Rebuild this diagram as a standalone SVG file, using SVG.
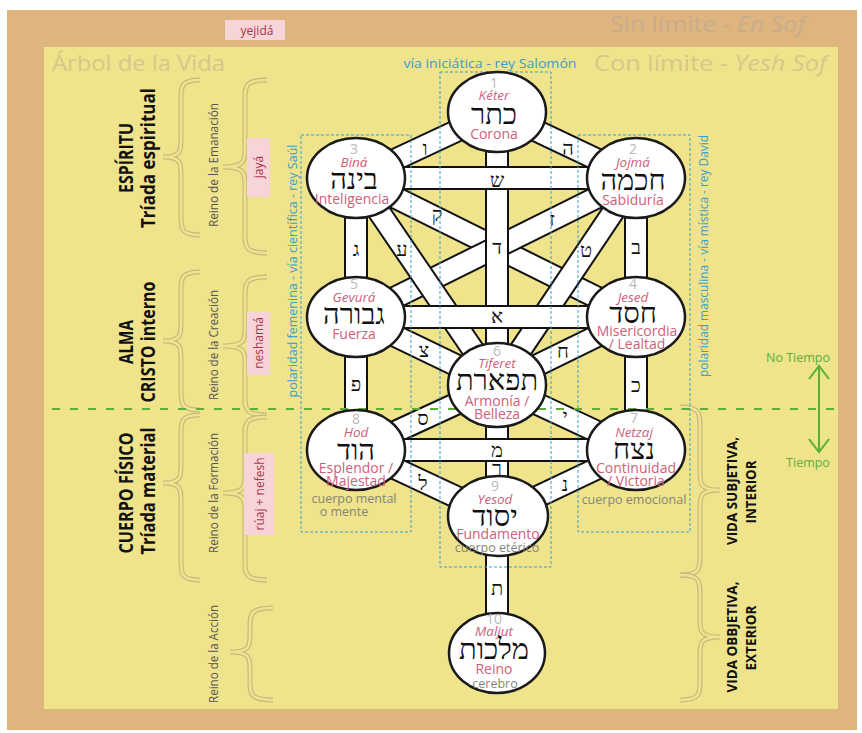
<svg xmlns="http://www.w3.org/2000/svg" xmlns:xlink="http://www.w3.org/1999/xlink" width="862" height="733" viewBox="0 0 862 733">
<style>
text{font-family:"Open Sans","Liberation Sans",sans-serif;text-anchor:middle;dominant-baseline:central}
.bo{fill:none;stroke:#111;stroke-width:24}
.bi{fill:none;stroke:#fff;stroke-width:20}
.let{font-family:"Liberation Serif","DejaVu Sans",serif;font-size:20px;fill:#111}
.node ellipse{fill:#fff;stroke:#1a1a1a;stroke-width:2.5}
.num{font-size:14px;fill:#b9b9b9}
.nm{font-size:13.5px;font-style:italic;fill:#d0607a}
.heb{font-family:"Liberation Serif","DejaVu Sans",serif;font-size:29px;fill:#111}
.tr{font-size:14px;fill:#d0607a}
.gr{font-size:12.5px;fill:#85857a}
.box{fill:none;stroke:#3a9fc9;stroke-width:1;stroke-dasharray:3 2}
.blue{font-size:12px;fill:#3a9fc9}
.brO{fill:none;stroke:#c4bb80;stroke-width:5}
.brI{fill:none;stroke:#efe38b;stroke-width:2.6}
.big{font-size:19px;font-weight:bold;fill:#111}
.vida{font-size:15px;font-weight:bold;fill:#111}
.reino{font-size:12px;fill:#555}
.pk{fill:#f6d4d8}
.pkt{font-size:12px;fill:#a8354c}
.green{stroke:#5dae35;stroke-width:2;fill:none}
.gt{font-size:12.5px;fill:#62ad3c}
.title{font-size:21px;fill:#d4c98a;text-anchor:start;dominant-baseline:auto}
</style>
<defs>
<path id="b1" d="M200,80 C181,80 181,86 181,100 L181,139 C181,151 181,157 163,157 C181,157 181,163 181,175 L181,215 C181,229 181,235 200,235"/>
<path id="b2" d="M267,80 C245,80 245,86 245,100 L245,149 C245,161 245,167 223,167 C245,167 245,173 245,185 L245,233 C245,247 245,253 267,253"/>
<path id="b3" d="M200,272 C181,272 181,278 181,292 L181,323 C181,335 181,341 163,341 C181,341 181,347 181,359 L181,390 C181,404 181,410 200,410"/>
<path id="b4" d="M267,277 C245,277 245,283 245,297 L245,328 C245,340 245,346 223,346 C245,346 245,352 245,364 L245,395 C245,409 245,415 267,415"/>
<path id="b5" d="M200,415 C181,415 181,421 181,435 L181,465 C181,477 181,483 163,483 C181,483 181,489 181,501 L181,560 C181,574 181,580 200,580"/>
<path id="b6" d="M267,417 C245,417 245,423 245,437 L245,475 C245,487 245,493 223,493 C245,493 245,499 245,511 L245,560 C245,574 245,580 267,580"/>
<path id="b7" d="M273,608 C250,608 250,614 250,628 L250,634 C250,646 250,652 230,652 C250,652 250,658 250,670 L250,680 C250,694 250,700 273,700"/>
<path id="b8" d="M680,407 C700,407 700,413 700,427 L700,472 C700,484 700,490 720,490 C700,490 700,496 700,508 L700,555 C700,569 700,575 680,575"/>
<path id="b9" d="M680,575 C700,575 700,581 700,595 L700,619 C700,631 700,637 720,637 C700,637 700,643 700,655 L700,680 C700,694 700,700 680,700"/>
</defs>

<!-- backgrounds -->
<rect x="0" y="0" width="862" height="733" fill="#ffffff"/>
<rect x="7" y="10" width="850" height="720" fill="#deb47f"/>
<rect x="44" y="47" width="794" height="662" fill="#efe38b"/>

<!-- top texts -->
<text class="title" x="610" y="32" textLength="195" lengthAdjust="spacingAndGlyphs" style="fill:#c9ad8b">Sin límite - <tspan font-style="italic">En Sof</tspan></text>
<text class="title" x="52" y="71" textLength="173" lengthAdjust="spacingAndGlyphs">Árbol de la Vida</text>
<text class="title" x="594" y="71" textLength="233" lengthAdjust="spacingAndGlyphs">Con límite - <tspan font-style="italic">Yesh Sof</tspan></text>
<text class="blue" x="490" y="63" textLength="173" lengthAdjust="spacingAndGlyphs">vía iniciática - rey Salomón</text>
<g id="yejida">
<rect class="pk" x="225" y="20" width="60" height="20"/>
<text class="pkt" x="257" y="30">yejidá</text>
</g>

<!-- braces -->
<g id="braces">
<use href="#b1" class="brO"/><use href="#b1" class="brI"/>
<use href="#b2" class="brO"/><use href="#b2" class="brI"/>
<use href="#b3" class="brO"/><use href="#b3" class="brI"/>
<use href="#b4" class="brO"/><use href="#b4" class="brI"/>
<use href="#b5" class="brO"/><use href="#b5" class="brI"/>
<use href="#b6" class="brO"/><use href="#b6" class="brI"/>
<use href="#b7" class="brO"/><use href="#b7" class="brI"/>
<use href="#b8" class="brO"/><use href="#b8" class="brI"/>
<use href="#b9" class="brO"/><use href="#b9" class="brI"/>
</g>
<g id="left-labels">
<text class="big" transform="translate(126,158) rotate(-90)" textLength="70" lengthAdjust="spacingAndGlyphs">ESPÍRITU</text>
<text class="big" transform="translate(148,158) rotate(-90)" textLength="140" lengthAdjust="spacingAndGlyphs">Tríada espiritual</text>
<text class="big" transform="translate(126,342) rotate(-90)" textLength="44" lengthAdjust="spacingAndGlyphs">ALMA</text>
<text class="big" transform="translate(148,342) rotate(-90)" textLength="121" lengthAdjust="spacingAndGlyphs">CRISTO interno</text>
<text class="big" transform="translate(126,493) rotate(-90)" textLength="121" lengthAdjust="spacingAndGlyphs">CUERPO FÍSICO</text>
<text class="big" transform="translate(148,491) rotate(-90)" textLength="127" lengthAdjust="spacingAndGlyphs">Tríada material</text>
<text class="reino" transform="translate(213,165) rotate(-90)" textLength="124" lengthAdjust="spacingAndGlyphs">Reino de la Emanación</text>
<text class="reino" transform="translate(213,345) rotate(-90)" textLength="110" lengthAdjust="spacingAndGlyphs">Reino de la Creación</text>
<text class="reino" transform="translate(213,493) rotate(-90)" textLength="120" lengthAdjust="spacingAndGlyphs">Reino de la Formación</text>
<text class="reino" transform="translate(213,654) rotate(-90)" textLength="98" lengthAdjust="spacingAndGlyphs">Reino de la Acción</text>
</g>
<g id="soul-labels">
<rect class="pk" x="247" y="138" width="23" height="59"/>
<text class="pkt" transform="translate(258.5,167) rotate(-90)">jayá</text>
<rect class="pk" x="247" y="312" width="23" height="63"/>
<text class="pkt" transform="translate(258.5,343) rotate(-90)">neshamá</text>
<rect class="pk" x="244" y="453" width="30" height="82"/>
<text class="pkt" transform="translate(259,494) rotate(-90)">rúaj + nefesh</text>
</g>
<g id="right-labels">
<text class="vida" transform="translate(731,491) rotate(-90)" textLength="108" lengthAdjust="spacingAndGlyphs">VIDA SUBJETIVA,</text>
<text class="vida" transform="translate(750,492) rotate(-90)" textLength="63" lengthAdjust="spacingAndGlyphs">INTERIOR</text>
<text class="vida" transform="translate(731,637) rotate(-90)" textLength="111" lengthAdjust="spacingAndGlyphs">VIDA OBBJETIVA,</text>
<text class="vida" transform="translate(750,638) rotate(-90)" textLength="65" lengthAdjust="spacingAndGlyphs">EXTERIOR</text>
</g>
<g id="polarity">
<text class="blue" transform="translate(292,271) rotate(-90)" textLength="253" lengthAdjust="spacingAndGlyphs">polaridad femenina - vía científica - rey Saúl</text>
<text class="blue" transform="translate(703,256) rotate(-90)" textLength="242" lengthAdjust="spacingAndGlyphs">polaridad masculina - vía mística - rey David</text>
</g>

<!-- connectors -->
<g id="connectors">
<line class="bo" x1="356" y1="178" x2="636" y2="317"/><line class="bi" x1="356" y1="178" x2="636" y2="317"/>
<line class="bo" x1="636" y1="178" x2="356" y2="317"/><line class="bi" x1="636" y1="178" x2="356" y2="317"/>
<line class="bo" x1="356" y1="178" x2="497" y2="385"/><line class="bi" x1="356" y1="178" x2="497" y2="385"/>
<line class="bo" x1="636" y1="178" x2="497" y2="385"/><line class="bi" x1="636" y1="178" x2="497" y2="385"/>
<line class="bo" x1="497" y1="112" x2="356" y2="178"/><line class="bi" x1="497" y1="112" x2="356" y2="178"/>
<line class="bo" x1="497" y1="112" x2="636" y2="178"/><line class="bi" x1="497" y1="112" x2="636" y2="178"/>
<line class="bo" x1="356" y1="178" x2="356" y2="317"/><line class="bi" x1="356" y1="178" x2="356" y2="317"/>
<line class="bo" x1="636" y1="178" x2="636" y2="317"/><line class="bi" x1="636" y1="178" x2="636" y2="317"/>
<line class="bo" x1="497" y1="112" x2="497" y2="385"/><line class="bi" x1="497" y1="112" x2="497" y2="385"/>
<line class="bo" x1="356" y1="178" x2="636" y2="178"/><line class="bi" x1="356" y1="178" x2="636" y2="178"/>
<line class="bo" x1="356" y1="317" x2="636" y2="317"/><line class="bi" x1="356" y1="317" x2="636" y2="317"/>
<line class="bo" x1="356" y1="317" x2="497" y2="385"/><line class="bi" x1="356" y1="317" x2="497" y2="385"/>
<line class="bo" x1="636" y1="317" x2="497" y2="385"/><line class="bi" x1="636" y1="317" x2="497" y2="385"/>
<line class="bo" x1="356" y1="317" x2="356" y2="450"/><line class="bi" x1="356" y1="317" x2="356" y2="450"/>
<line class="bo" x1="636" y1="317" x2="636" y2="450"/><line class="bi" x1="636" y1="317" x2="636" y2="450"/>
<line class="bo" x1="356" y1="450" x2="497" y2="385"/><line class="bi" x1="356" y1="450" x2="497" y2="385"/>
<line class="bo" x1="636" y1="450" x2="497" y2="385"/><line class="bi" x1="636" y1="450" x2="497" y2="385"/>
<line class="bo" x1="497" y1="385" x2="497" y2="516"/><line class="bi" x1="497" y1="385" x2="497" y2="516"/>
<line class="bo" x1="356" y1="450" x2="636" y2="450"/><line class="bi" x1="356" y1="450" x2="636" y2="450"/>
<line class="bo" x1="356" y1="450" x2="497" y2="516"/><line class="bi" x1="356" y1="450" x2="497" y2="516"/>
<line class="bo" x1="636" y1="450" x2="497" y2="516"/><line class="bi" x1="636" y1="450" x2="497" y2="516"/>
<line class="bo" x1="497" y1="516" x2="497" y2="653"/><line class="bi" x1="497" y1="516" x2="497" y2="653"/>
<text class="let" x="425" y="148">ו</text>
<text class="let" x="568" y="148">ה</text>
<text class="let" x="497" y="180">ש</text>
<text class="let" x="437" y="214">ק</text>
<text class="let" x="552" y="219">ז</text>
<text class="let" x="497" y="247">ד</text>
<text class="let" x="402" y="249">ע</text>
<text class="let" x="586" y="250">ט</text>
<text class="let" x="356" y="249">ג</text>
<text class="let" x="636" y="247">ב</text>
<text class="let" x="497" y="316">א</text>
<text class="let" x="424" y="350">צ</text>
<text class="let" x="563" y="351">ח</text>
<text class="let" x="356" y="384">פ</text>
<text class="let" x="636" y="385">כ</text>
<text class="let" x="423" y="418">ס</text>
<text class="let" x="565" y="416">י</text>
<text class="let" x="497" y="450">מ</text>
<text class="let" x="497" y="468">ר</text>
<text class="let" x="423" y="483">ל</text>
<text class="let" x="565" y="484">נ</text>
<text class="let" x="497" y="588">ת</text>
</g>

<!-- dotted column boxes -->
<g id="columns">
<rect class="box" x="301" y="135" width="110" height="397"/>
<rect class="box" x="440" y="72" width="111" height="495"/>
<rect class="box" x="578" y="135" width="112" height="397"/>
</g>

<!-- time line -->
<g id="time">
<line class="green" x1="52" y1="409" x2="834" y2="409" stroke-dasharray="8 10"/>
<line class="green" x1="819" y1="366" x2="819" y2="452"/>
<polyline class="green" points="809,379 819,366 829,379"/>
<polyline class="green" points="809,439 819,452 829,439"/>
<text class="gt" x="798" y="357">No Tiempo</text>
<text class="gt" x="808" y="462">Tiempo</text>
</g>

<!-- nodes -->
<g id="keter" class="node">
<ellipse cx="497" cy="112" rx="49" ry="40"/>
<text class="num" x="494" y="82">1</text>
<text class="nm" x="494" y="95">Kéter</text>
<text class="heb" x="494" y="114">כתר</text>
<text class="tr" x="494" y="133">Corona</text>
</g>
<g id="bina" class="node">
<ellipse cx="356" cy="178" rx="49" ry="40"/>
<text class="num" x="354" y="148">3</text>
<text class="nm" x="354" y="162">Biná</text>
<text class="heb" x="354" y="179">בינה</text>
<text class="tr" x="352" y="198">Inteligencia</text>
</g>
<g id="jojma" class="node">
<ellipse cx="636" cy="178" rx="49" ry="40"/>
<text class="num" x="633" y="148">2</text>
<text class="nm" x="633" y="162">Jojmá</text>
<text class="heb" x="633" y="180">חכמה</text>
<text class="tr" x="633" y="199">Sabiduría</text>
</g>
<g id="gevura" class="node">
<ellipse cx="356" cy="317" rx="49" ry="40"/>
<text class="num" x="354" y="283">5</text>
<text class="nm" x="354" y="297">Gevurá</text>
<text class="heb" x="354" y="314">גבורה</text>
<text class="tr" x="354" y="333">Fuerza</text>
</g>
<g id="jesed" class="node">
<ellipse cx="636" cy="317" rx="49" ry="40"/>
<text class="num" x="633" y="283">4</text>
<text class="nm" x="633" y="297">Jesed</text>
<text class="heb" x="633" y="313">חסד</text>
<text class="tr" x="637" y="330">Misericordia</text>
<text class="tr" x="637" y="343">/ Lealtad</text>
</g>
<g id="tiferet" class="node">
<ellipse cx="497" cy="385" rx="49" ry="42"/>
<text class="num" x="497" y="350">6</text>
<text class="nm" x="497" y="363">Tiferet</text>
<text class="heb" x="497" y="380">תפארת</text>
<text class="tr" x="497" y="400">Armonía /</text>
<text class="tr" x="497" y="413">Belleza</text>
</g>
<g id="hod" class="node">
<ellipse cx="356" cy="450" rx="49" ry="40"/>
<text class="num" x="356" y="418">8</text>
<text class="nm" x="356" y="432">Hod</text>
<text class="heb" x="356" y="450">הוד</text>
<text class="tr" x="356" y="467">Esplendor /</text>
<text class="tr" x="356" y="480">Majestad</text>
<text class="gr" x="354" y="498">cuerpo mental</text>
<text class="gr" x="344" y="511">o mente</text>
</g>
<g id="netzaj" class="node">
<ellipse cx="636" cy="450" rx="49" ry="40"/>
<text class="num" x="634" y="417">7</text>
<text class="nm" x="634" y="432">Netzaj</text>
<text class="heb" x="634" y="449">נצח</text>
<text class="tr" x="636" y="467">Continuidad</text>
<text class="tr" x="636" y="480">/ Victoria</text>
<text class="gr" x="634" y="499">cuerpo emocional</text>
</g>
<g id="yesod" class="node">
<ellipse cx="498" cy="516" rx="50" ry="40"/>
<text class="num" x="495" y="485">9</text>
<text class="nm" x="495" y="499">Yesod</text>
<text class="heb" x="495" y="516">יסוד</text>
<text class="tr" x="498" y="533">Fundamento</text>
<text class="gr" x="497" y="547">cuerpo etérico</text>
</g>
<g id="maljut" class="node">
<ellipse cx="497" cy="653" rx="48" ry="40"/>
<text class="num" x="494" y="618">10</text>
<text class="nm" x="494" y="631">Maljut</text>
<text class="heb" x="494" y="649">מלכות</text>
<text class="tr" x="494" y="668">Reino</text>
<text class="gr" x="495" y="683">cerebro</text>
</g>
</svg>
